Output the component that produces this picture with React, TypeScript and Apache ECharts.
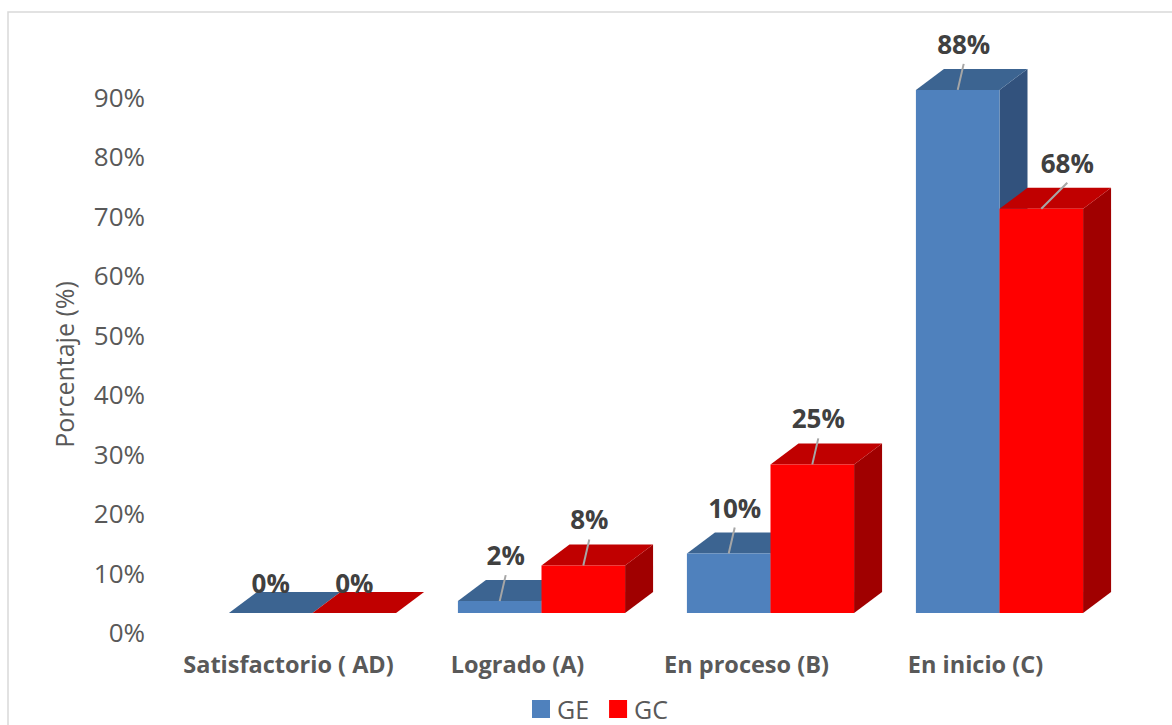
import React, { useEffect, useRef } from "react";
import * as echarts from "echarts";

// Achievement levels and percentages for each group
const categories = ["Satisfactorio ( AD)", "Logrado (A)", "En proceso (B)", "En inicio (C)"];
const seriesNames = ["GE", "GC"];
const geValues = [0, 2, 10, 88];
const gcValues = [0, 8, 25, 68];
const yTicks = { min: 0, max: 90, interval: 10 };

// Face colours of the 3D boxes: front, top, side
const palettes = [
  { front: "#4F81BD", top: "#3C6491", side: "#32527D" },
  { front: "#FF0000", top: "#C00000", side: "#A00000" },
];

const FONT = '"Open Sans", "Noto Sans", sans-serif';

function makeRenderItem(seriesIdx: number, allValues: number[][]) {
  const pal = palettes[seriesIdx];
  return (params: any, api: any) => {
    const cat = api.value(0);
    const val = api.value(1);
    const base = api.coord([cat, 0]);
    const topPt = api.coord([cat, val]);
    const band = api.size([1, 0])[0];
    const barW = band * 0.365;
    // boxes sit back from the floor's front edge
    const shiftX = 24;
    const shiftY = 19;
    const dx = 28;
    const dy = 21;
    const pairCenter = base[0] + shiftX;
    const x0 = pairCenter - barW + seriesIdx * barW;
    const x1 = x0 + barW;
    const yb = base[1] - shiftY;
    const yt = topPt[1] - shiftY;

    const children: any[] = [
      {
        type: "polygon",
        shape: { points: [[x1, yb], [x1 + dx, yb - dy], [x1 + dx, yt - dy], [x1, yt]] },
        style: { fill: pal.side },
      },
      {
        type: "polygon",
        shape: { points: [[x0, yt], [x0 + dx, yt - dy], [x1 + dx, yt - dy], [x1, yt]] },
        style: { fill: pal.top },
      },
      {
        type: "rect",
        shape: { x: x0, y: yt, width: barW, height: Math.max(0, yb - yt) },
        style: { fill: pal.front },
      },
    ];

    const cx = (x0 + x1) / 2;
    let labelY = yt - 30;
    let labelX = cx;
    if (val > 0) {
      // lean the leader right when a taller neighbouring box stands on the left
      const leftNeighbour = seriesIdx > 0 ? allValues[seriesIdx - 1][cat] : -1;
      const lean = leftNeighbour > val ? 26 : 6;
      labelX = cx + lean;
      labelY = yt - 46;
      children.push({
        type: "line",
        shape: { x1: cx, y1: yt, x2: cx + lean, y2: yt - 26 },
        style: { stroke: "#A6A6A6", lineWidth: 2 },
      });
    }
    children.push({
      type: "text",
      style: {
        text: val + "%",
        x: labelX,
        y: labelY,
        align: "center",
        verticalAlign: "middle",
        textAlign: "center",
        textVerticalAlign: "middle",
        fill: "#404040",
        font: `bold 26px ${FONT}`,
      },
    });
    return { type: "group", children };
  };
}

export default function App() {
  const ref = useRef<HTMLDivElement>(null);

  useEffect(() => {
    if (!ref.current) return;
    const chart = echarts.init(ref.current, null, { renderer: "svg" });
    const seriesData = [geValues, gcValues];

    chart.setOption({
      animation: false,
      backgroundColor: "#FFFFFF",
      graphic: [
        {
          type: "rect",
          x: 8,
          y: 12,
          shape: { x: 0, y: 0, width: 1200, height: 800 },
          style: { fill: "none", stroke: "#D9D9D9", lineWidth: 1.5 },
          silent: true,
        },
      ],
      grid: { left: 174, right: 82, top: 97, bottom: 93 },
      legend: {
        data: seriesNames,
        left: 527,
        top: 691,
        itemWidth: 18,
        itemHeight: 18,
        itemGap: 20,
        icon: "rect",
        textStyle: { fontFamily: FONT, fontSize: 25, color: "#595959", lineHeight: 26, padding: [0, 0, 0, 2] },
      },
      xAxis: {
        type: "category",
        data: categories,
        axisLine: { show: false },
        axisTick: { show: false },
        axisLabel: {
          interval: 0,
          margin: 20,
          fontFamily: FONT,
          fontSize: 23.5,
          fontWeight: "bold",
          color: "#595959",
        },
      },
      yAxis: {
        type: "value",
        min: yTicks.min,
        max: yTicks.max,
        interval: yTicks.interval,
        name: "Porcentaje (%)",
        nameLocation: "middle",
        nameRotate: 90,
        nameGap: 98,
        nameTextStyle: { fontFamily: FONT, fontSize: 25, color: "#595959" },
        axisLine: { show: false },
        axisTick: { show: false },
        splitLine: { show: false },
        axisLabel: {
          formatter: "{value}%",
          margin: 29,
          fontFamily: FONT,
          fontSize: 26,
          color: "#595959",
        },
      },
      series: seriesNames.map((name, i) => ({
        name,
        type: "custom",
        coordinateSystem: "cartesian2d",
        itemStyle: { color: palettes[i].front },
        renderItem: makeRenderItem(i, seriesData),
        encode: { x: 0, y: 1 },
        data: seriesData[i].map((v, c) => [c, v]),
      })),
    });

    return () => chart.dispose();
  }, []);

  return (
    <div
      ref={ref}
      style={{ position: "absolute", left: 0, top: 0, width: 1172, height: 725 }}
    />
  );
}
